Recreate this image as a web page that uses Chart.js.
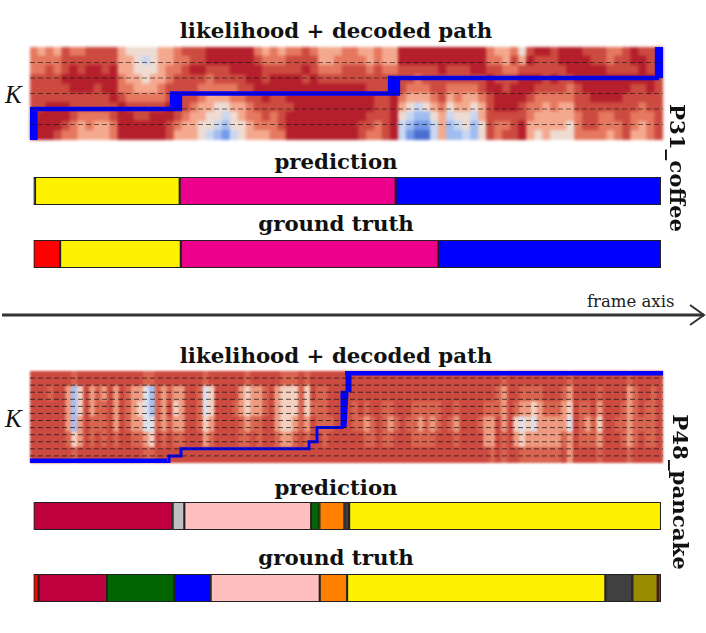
<!DOCTYPE html>
<html>
<head>
<meta charset="utf-8">
<script src="https://cdn.jsdelivr.net/npm/chart.js@4"></script>
<style>
    html, body { margin: 0; background: #fff; }
    #page { position: relative; width: 706px; height: 633px; overflow: hidden; font-family: "DejaVu Serif", serif; color: #111; }
    #page canvas { position: absolute; }
    #heatCoffee { filter: blur(1.4px); }
    #heatPancake { filter: blur(0.9px); }
    .title { position: absolute; left: 136px; width: 400px; text-align: center; font-size: 21.3px; font-weight: bold; line-height: 24px; white-space: nowrap; }
    .side { position: absolute; font-size: 21.3px; font-weight: bold; line-height: 24px; white-space: nowrap; transform: translate(-50%, -50%) rotate(90deg); }
    .k { position: absolute; left: 5px; font-family: "Liberation Serif", serif; font-style: italic; font-size: 25px; line-height: 28px; }
    #frameAxis { position: absolute; left: 587px; top: 292px; font-size: 16.5px; line-height: 20px; color: #222; white-space: nowrap; }
    svg { position: absolute; left: 0; top: 300px; }
</style>
</head>
<body>
<div id="page">
    <div class="title" style="top:19px">likelihood + decoded path</div>
    <div class="k" style="top:81px">K</div>
    <canvas id="heatCoffee" width="633" height="93" style="left:30px;top:47px"></canvas>
    <canvas id="pathCoffee" width="633" height="93" style="left:30px;top:47px"></canvas>
    <div class="title" style="top:150px">prediction</div>
    <canvas id="predCoffee" width="631" height="32" style="left:32px;top:175px"></canvas>
    <div class="title" style="top:212px">ground truth</div>
    <canvas id="truthCoffee" width="631" height="32" style="left:32px;top:238px"></canvas>
    <div class="side" style="left:677px;top:168px">P31_coffee</div>

    <div id="frameAxis">frame axis</div>
    <svg width="706" height="30">
        <line x1="2" y1="15" x2="704" y2="15" stroke="#333" stroke-width="3"/>
        <polyline points="690,5 704,15 690,25" fill="none" stroke="#333" stroke-width="2"/>
    </svg>

    <div class="title" style="top:344px">likelihood + decoded path</div>
    <div class="k" style="top:405px">K</div>
    <canvas id="heatPancake" width="633" height="92" style="left:30px;top:371px"></canvas>
    <canvas id="pathPancake" width="633" height="92" style="left:30px;top:371px"></canvas>
    <div class="title" style="top:476px">prediction</div>
    <canvas id="predPancake" width="631" height="32" style="left:32px;top:500px"></canvas>
    <div class="title" style="top:546px">ground truth</div>
    <canvas id="truthPancake" width="631" height="32" style="left:32px;top:572px"></canvas>
    <div class="side" style="left:680px;top:492px">P48_pancake</div>
</div>

<script>
// niveles de color del mapa de verosimilitud (rojo = bajo, azul = alto)
const heatColorsCoffee = ['#b41f2b', '#cc4a40', '#e5785f', '#f4a98f', '#eedcd3', '#c9d7f1', '#a0bcf0', '#7498e8', '#4a6fd0'];
const heatColorsPancake = ['#b41f2b', '#cc4a40', '#d9644f', '#ee9a80', '#f4d0c0', '#dfe0ea', '#a8c0f0'];

// colores de las acciones
const red = '#ff0000', yellow = '#fff200', magenta = '#ec008c', blue = '#0000ff', sliver = '#111111';
const crimson = '#bf003f', grey = '#bfbfbf', pink = '#ffbfbf', green = '#006400', orange = '#ff8000', darkGrey = '#404040', olive = '#998c00';

// P31_coffee: cada fila es una columna del mapa, de arriba a abajo
const heatCoffee = [
    [2,2,2,1,1,1,1,1,0,0], [3,2,2,1,1,1,1,0,0,0], [2,2,1,1,1,1,0,0,0,0], [3,2,2,1,1,1,0,0,0,1],
    [1,1,1,0,1,1,0,0,1,2], [2,1,0,0,0,1,1,1,2,2], [2,1,1,0,0,1,1,2,3,3], [1,1,0,0,0,1,1,2,2,3],
    [1,1,0,0,1,1,1,2,3,3], [1,1,1,0,0,1,1,2,3,3], [1,1,0,0,0,0,1,1,2,2], [3,3,3,2,2,1,0,0,0,0],
    [4,3,3,3,2,2,1,0,0,0], [4,4,4,3,3,2,1,1,0,0], [4,5,4,4,3,2,1,1,0,0], [4,4,4,3,3,2,1,0,0,0],
    [3,3,3,3,2,2,1,0,0,0], [3,3,2,2,1,1,0,0,1,1], [2,2,2,1,1,1,1,1,2,3], [1,2,1,1,1,1,1,2,3,3],
    [1,1,0,1,1,1,2,3,3,3], [1,1,0,1,2,2,3,3,4,4], [0,0,1,2,2,3,3,4,4,5], [0,0,1,1,2,3,4,4,5,6],
    [0,0,1,1,2,3,4,5,6,7], [0,0,0,1,2,2,3,4,4,5], [0,0,0,1,1,2,3,3,4,4], [0,0,0,0,1,1,2,2,3,3],
    [2,1,0,0,0,1,1,2,2,3], [3,2,1,1,0,0,1,1,2,3], [2,2,1,0,0,1,1,2,2,2], [3,2,1,0,0,1,1,1,1,2],
    [2,1,1,0,0,0,1,0,0,0], [2,1,1,0,0,0,0,0,0,0], [1,1,0,1,0,0,0,0,0,0], [2,1,1,0,0,0,0,0,0,0],
    [3,3,2,1,0,0,0,0,0,0], [3,3,2,1,0,0,0,0,0,0], [3,2,2,1,0,0,0,0,0,0], [2,2,1,1,0,0,0,0,0,0],
    [2,2,1,1,0,0,0,0,0,0], [3,2,1,1,0,0,0,0,1,1], [3,3,2,1,1,0,0,1,1,2], [2,2,1,1,1,1,1,1,2,2],
    [3,3,2,1,1,1,1,1,1,1], [3,3,2,1,0,0,0,0,0,0], [0,0,1,1,1,2,3,4,5,5], [0,0,1,1,2,3,4,5,6,7],
    [0,0,1,2,2,3,5,6,7,8], [0,0,1,1,2,3,4,6,7,8], [0,0,1,1,1,2,3,4,5,5], [0,0,0,1,1,1,2,3,3,3],
    [0,0,1,1,2,3,4,5,6,6], [0,0,1,1,2,2,3,4,5,6], [0,0,1,1,2,3,3,4,4,5], [0,0,0,1,2,3,4,5,6,6],
    [0,0,0,1,1,2,3,3,4,4], [2,2,1,0,0,1,1,1,1,1], [3,2,1,1,0,0,0,1,2,2], [3,3,2,1,1,0,0,1,2,1],
    [2,1,2,1,0,0,0,1,1,1], [4,3,1,0,0,0,1,1,0,0], [1,0,1,0,0,1,2,2,3,3], [0,1,1,0,1,2,2,3,3,4],
    [0,1,1,1,1,2,3,3,3,3], [1,1,1,0,1,2,2,3,3,4], [0,0,1,1,1,2,3,3,3,4], [0,0,0,1,2,2,3,3,4,4],
    [0,0,0,0,1,1,1,2,2,2], [1,0,0,0,0,1,1,1,1,2], [1,1,0,0,0,0,1,1,1,2], [1,1,0,0,0,0,1,2,2,2],
    [2,2,1,0,0,0,1,2,2,3], [2,1,1,0,0,0,1,1,2,2], [1,1,1,0,0,1,1,1,1,1], [0,0,1,0,1,1,1,2,2,3],
    [1,0,0,0,1,1,2,2,3,3], [1,1,1,0,0,1,1,2,2,2], [1,1,1,1,1,1,1,1,1,1]
];
const statesCoffee = 6;
const pathFramesCoffee = [2, 2, 5.5, 5.5, 5.5, 142, 142, 146, 146, 150, 150, 360, 360, 364, 364, 368, 368, 627, 627, 631, 631];
const pathStatesCoffee = [0, 2, 2, 0, 2, 2, 3, 3, 2, 2, 3, 3, 4, 4, 3, 3, 4, 4, 6, 6, 4];
const predCoffee = [1.5, 144.6, 215.8, 265.1];
const predCoffeeColors = [sliver, yellow, magenta, blue];
const truthCoffee = [26.6, 120.6, 257.3, 222.5];
const truthCoffeeColors = [red, yellow, magenta, blue];

// P48_pancake
const heatPancake = [
    [1,1,1,1,1,1], [1,1,1,1,1,1], [1,1,1,1,1,1], [1,2,1,1,1,1], [1,1,1,1,1,1], [1,1,1,1,1,1],
    [1,3,3,3,2,1], [2,6,6,6,4,2], [1,4,4,3,3,1], [1,1,1,1,1,1], [1,3,3,2,2,1], [1,2,2,2,1,1],
    [1,3,2,2,2,1], [1,1,1,1,1,1], [1,3,3,3,2,1], [1,1,1,1,1,1], [1,2,2,2,1,1], [1,3,3,3,2,1],
    [1,3,4,3,2,1], [2,5,5,5,3,2], [2,6,6,5,4,2], [1,2,2,2,1,1], [1,3,3,3,2,1], [1,2,1,2,1,1],
    [1,3,4,3,2,1], [1,3,3,3,2,1], [1,1,1,1,1,1], [1,1,1,1,1,1], [1,2,2,2,1,1], [2,5,5,4,3,1],
    [1,4,4,3,2,1], [1,1,1,1,1,1], [1,1,1,1,1,1], [1,1,1,1,1,1], [1,1,2,1,1,1], [1,3,3,2,2,1],
    [2,4,4,3,2,1], [1,3,3,2,1,1], [1,3,3,2,2,1], [1,2,2,1,1,1], [1,1,1,1,1,1], [1,3,3,3,2,1],
    [2,4,4,4,3,1], [2,4,4,4,3,1], [2,4,4,3,2,1], [1,2,2,2,1,1], [2,4,4,3,2,1], [1,1,2,1,1,1],
    [1,2,2,2,1,1], [1,2,2,2,2,1], [1,1,1,2,1,1], [1,1,1,1,1,1], [1,1,1,1,1,1], [1,1,1,1,1,1],
    [1,1,2,2,1,1], [1,1,1,2,1,1], [1,1,2,3,2,1], [1,1,1,2,2,1], [1,1,1,1,1,1], [1,1,2,2,2,1],
    [1,1,2,3,2,1], [1,1,1,2,1,1], [1,1,1,1,1,1], [1,1,1,2,1,1], [1,1,2,2,2,1], [1,1,2,3,2,1],
    [1,1,2,2,2,1], [1,1,2,3,2,1], [1,1,2,2,1,1], [1,1,1,1,1,1], [1,1,1,2,1,1], [1,1,2,3,2,1],
    [1,1,1,1,1,1], [1,1,1,1,1,1], [1,1,1,1,1,1], [1,1,1,2,1,1], [1,1,2,3,3,1], [1,1,2,3,3,2],
    [1,2,2,1,1,1], [2,3,3,3,2,2], [1,1,1,1,1,1], [1,1,2,4,3,1], [1,2,3,5,4,2], [1,2,3,4,3,2],
    [1,2,4,5,3,2], [1,2,3,3,3,2], [1,1,2,3,3,2], [1,1,2,3,3,2], [1,1,2,3,3,2], [1,2,3,3,2,1],
    [2,3,4,5,3,3], [1,1,1,1,1,1], [1,1,2,2,2,1], [1,1,2,3,2,1], [1,1,1,2,2,1], [1,2,3,4,3,2],
    [1,1,1,1,1,1], [1,1,1,1,1,1], [1,1,1,2,1,1], [1,1,2,2,2,1], [2,3,3,3,3,2], [1,2,2,2,2,1],
    [1,1,1,2,1,1], [1,1,2,2,2,1], [1,2,2,2,2,1], [1,1,1,1,1,1]
];
const statesPancake = 13;
const pathFramesPancake = [137, 139, 139, 141, 141, 150, 151, 151, 153, 153, 279, 279, 282, 282, 287, 287, 290, 290, 312, 312, 315, 315, 317, 317, 320, 320];
const pathStatesPancake = [0, 0, 1, 1, 1, 1, 1, 2, 2, 2, 2, 3, 3, 3, 3, 5, 5, 5, 5, 10, 10, 5, 10, 13, 13, 10];
const edgeFramesPancake = [0, 137, 315, 633];
const edgeStatesPancake = [0, 0, 13, 13];
const predPancake = [139, 11.7, 126.7, 8.3, 25, 4.7, 311.6];
const predPancakeColors = [crimson, grey, pink, green, orange, darkGrey, yellow];
const truthPancake = [5.2, 68.2, 67.3, 36.3, 109, 27.4, 258, 27, 25.3, 3.3];
const truthPancakeColors = [red, crimson, green, blue, pink, orange, yellow, darkGrey, olive, red];

const hiddenAxis = { display: false };
const quiet = { legend: { display: false }, tooltip: { enabled: false } };

function toPoints(frames, states) {
    return frames.map((frame, i) => ({ x: frame, y: states[i] }));
}

function pathDataset(points, width) {
    return {
        data: points, borderColor: blue, borderWidth: width, borderJoinStyle: 'miter',
        pointRadius: 0, tension: 0, fill: false, order: 1
    };
}

function drawHeat(id, columns, palette) {
    const rows = columns[0].length;
    const datasets = [];
    // filas de abajo hacia arriba porque la pila crece hacia arriba
    for (let r = rows - 1; r >= 0; r--) {
        datasets.push({
            data: columns.map(() => 1),
            backgroundColor: columns.map(col => palette[col[r]]),
            borderWidth: 0, inflateAmount: 0.6, barPercentage: 1, categoryPercentage: 1
        });
    }
    new Chart(document.getElementById(id), {
        type: 'bar',
        data: { labels: columns.map((_, i) => i), datasets: datasets },
        options: {
            responsive: false, animation: false, layout: { padding: 0 }, plugins: quiet,
            scales: {
                x: { ...hiddenAxis, stacked: true },
                y: { ...hiddenAxis, stacked: true, min: 0, max: rows }
            }
        }
    });
}

// camino decodificado y lineas punteadas, en un canvas encima del mapa
function drawPath(id, states, paths, dashColor) {
    const datasets = paths.slice();
    for (let k = 1; k < states; k++) {
        datasets.push({
            data: [{ x: 0, y: k }, { x: 633, y: k }], order: 0,
            borderColor: dashColor, borderWidth: 1, borderDash: [5, 3], pointRadius: 0
        });
    }
    new Chart(document.getElementById(id), {
        type: 'line',
        data: { datasets: datasets },
        options: {
            responsive: false, animation: false, layout: { padding: 0 }, plugins: quiet,
            scales: {
                x: { ...hiddenAxis, type: 'linear', min: 0, max: 633 },
                y: { ...hiddenAxis, type: 'linear', min: 0, max: states }
            }
        }
    });
}

function drawSegments(id, lengths, colors) {
    new Chart(document.getElementById(id), {
        type: 'bar',
        data: {
            labels: ['segmentos'],
            datasets: lengths.map((len, i) => ({
                data: [len], backgroundColor: colors[i], borderColor: '#222', borderWidth: 1.4,
                borderSkipped: false, barPercentage: 1, categoryPercentage: 1
            }))
        },
        options: {
            indexAxis: 'y', responsive: false, animation: false,
            layout: { padding: { left: 1.5, right: 2, top: 2, bottom: 2 } }, plugins: quiet,
            scales: {
                x: { ...hiddenAxis, stacked: true, min: 0, max: lengths.reduce((a, b) => a + b, 0) },
                y: { ...hiddenAxis, stacked: true }
            }
        }
    });
}

drawHeat('heatCoffee', heatCoffee, heatColorsCoffee);
drawPath('pathCoffee', statesCoffee, [pathDataset(toPoints(pathFramesCoffee, pathStatesCoffee), 4.3)], 'rgba(20,20,20,0.6)');
drawSegments('predCoffee', predCoffee, predCoffeeColors);
drawSegments('truthCoffee', truthCoffee, truthCoffeeColors);

drawHeat('heatPancake', heatPancake, heatColorsPancake);
drawPath('pathPancake', statesPancake, [
    pathDataset(toPoints(pathFramesPancake, pathStatesPancake), 3),
    pathDataset(toPoints(edgeFramesPancake.slice(0, 2), edgeStatesPancake.slice(0, 2)), 9),
    pathDataset(toPoints(edgeFramesPancake.slice(2), edgeStatesPancake.slice(2)), 9)
], 'rgba(20,20,20,0.72)');
drawSegments('predPancake', predPancake, predPancakeColors);
drawSegments('truthPancake', truthPancake, truthPancakeColors);
</script>
</body>
</html>
